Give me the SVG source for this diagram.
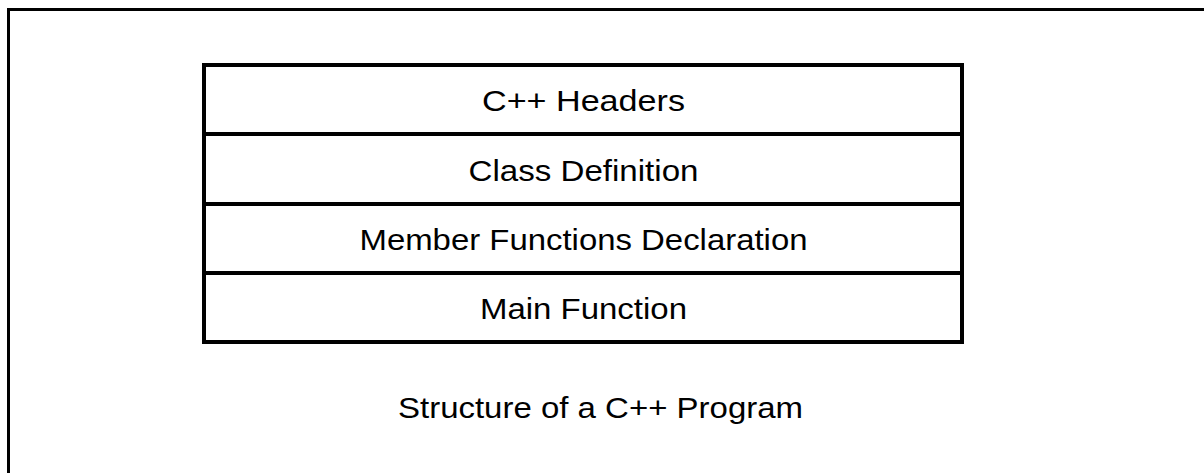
<svg xmlns="http://www.w3.org/2000/svg" width="1204" height="473" viewBox="0 0 1204 473">
<style>
.t{font-family:"Liberation Sans",Arial,sans-serif;font-size:30px;fill:#000;text-anchor:middle}
.box{fill:#fff;stroke:#000;stroke-width:4}
</style>
<rect x="0" y="0" width="1204" height="473" fill="#fff"/>
<rect id="frame" x="8.5" y="9.5" width="1220" height="490" fill="none" stroke="#000" stroke-width="3"/>
<g id="headers">
<rect class="box" x="204" y="65" width="758" height="69"/>
<text class="t" x="583.5" y="111" textLength="203" lengthAdjust="spacingAndGlyphs">C++ Headers</text>
</g>
<g id="classdef">
<rect class="box" x="204" y="134" width="758" height="70"/>
<text class="t" x="583.5" y="181" textLength="230" lengthAdjust="spacingAndGlyphs">Class Definition</text>
</g>
<g id="members">
<rect class="box" x="204" y="204" width="758" height="69"/>
<text class="t" x="583.5" y="250" textLength="448" lengthAdjust="spacingAndGlyphs">Member Functions Declaration</text>
</g>
<g id="main">
<rect class="box" x="204" y="273" width="758" height="69"/>
<text class="t" x="583.5" y="319" textLength="207" lengthAdjust="spacingAndGlyphs">Main Function</text>
</g>
<g id="caption">
<text class="t" x="600.5" y="418" textLength="405" lengthAdjust="spacingAndGlyphs">Structure of a C++ Program</text>
</g>
<g id="connectors"></g>
</svg>
